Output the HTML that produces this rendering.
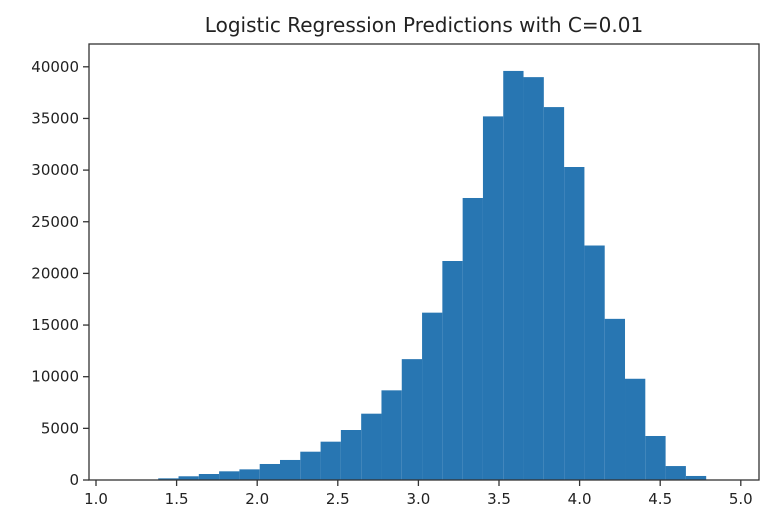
<!DOCTYPE html>
<html><head><meta charset="utf-8"><style>
body{margin:0;background:#fff;}
svg{display:block;font-family:"DejaVu Sans","Liberation Sans",sans-serif;}
</style></head><body>
<svg id="chart" width="784" height="528">
<text x="424" y="32" text-anchor="middle" font-size="20" fill="#222">Logistic Regression Predictions with C=0.01</text>
<g id="bars"></g>
<g id="axes"></g>
</svg>
<script>
const binStart = 1.386;
const binWidth = 0.1259;
const counts = [160,360,580,840,1030,1550,1940,2740,3710,4840,6420,8680,11700,16200,21200,27300,35200,39600,39000,36100,30300,22700,15600,9800,4260,1350,390];
const xTicks = [1.0,1.5,2.0,2.5,3.0,3.5,4.0,4.5,5.0];
const xTickLabels = ["1.0","1.5","2.0","2.5","3.0","3.5","4.0","4.5","5.0"];
const yTicks = [0,5000,10000,15000,20000,25000,30000,35000,40000];
const NS="http://www.w3.org/2000/svg";
const L=89,R=759,T=44,B=480;
function xs(v){return 96+(v-1)*161.2;}
function ys(v){return B-v*0.01033;}
const bars=document.getElementById('bars'), axes=document.getElementById('axes');
counts.forEach((c,i)=>{
  const x0=xs(binStart+i*binWidth), x1=xs(binStart+(i+1)*binWidth);
  const r=document.createElementNS(NS,'rect');
  r.setAttribute('x',x0);r.setAttribute('width',x1-x0);
  r.setAttribute('y',ys(c));r.setAttribute('height',B-ys(c));
  r.setAttribute('fill','#2876b2');
  
  
  bars.appendChild(r);
});
const frame=document.createElementNS(NS,'rect');
frame.setAttribute('x',L);frame.setAttribute('y',T);frame.setAttribute('width',R-L);frame.setAttribute('height',B-T);
frame.setAttribute('fill','none');frame.setAttribute('stroke','#333');frame.setAttribute('stroke-width','1.3');


axes.appendChild(frame);
xTicks.forEach((v,i)=>{
  const x=xs(v);
  const t=document.createElementNS(NS,'line');
  t.setAttribute('x1',x);t.setAttribute('x2',x);t.setAttribute('y1',B);t.setAttribute('y2',B+6);
  t.setAttribute('stroke','#333');t.setAttribute('stroke-width','1.3');
  
  
  axes.appendChild(t);
  const s=document.createElementNS(NS,'text');
  s.setAttribute('x',x);s.setAttribute('y',B+24);s.setAttribute('text-anchor','middle');
  s.setAttribute('font-size','15');s.setAttribute('fill','#222');
  s.textContent=xTickLabels[i];
  
  
  axes.appendChild(s);
});
yTicks.forEach(v=>{
  const y=ys(v);
  const t=document.createElementNS(NS,'line');
  t.setAttribute('x1',L-6);t.setAttribute('x2',L);t.setAttribute('y1',y);t.setAttribute('y2',y);
  t.setAttribute('stroke','#333');t.setAttribute('stroke-width','1.3');
  
  
  axes.appendChild(t);
  const s=document.createElementNS(NS,'text');
  s.setAttribute('x',L-10);s.setAttribute('y',y+5);s.setAttribute('text-anchor','end');
  s.setAttribute('font-size','15');s.setAttribute('fill','#222');
  s.textContent=String(v);
  
  
  axes.appendChild(s);
});
</script>
</body></html>
